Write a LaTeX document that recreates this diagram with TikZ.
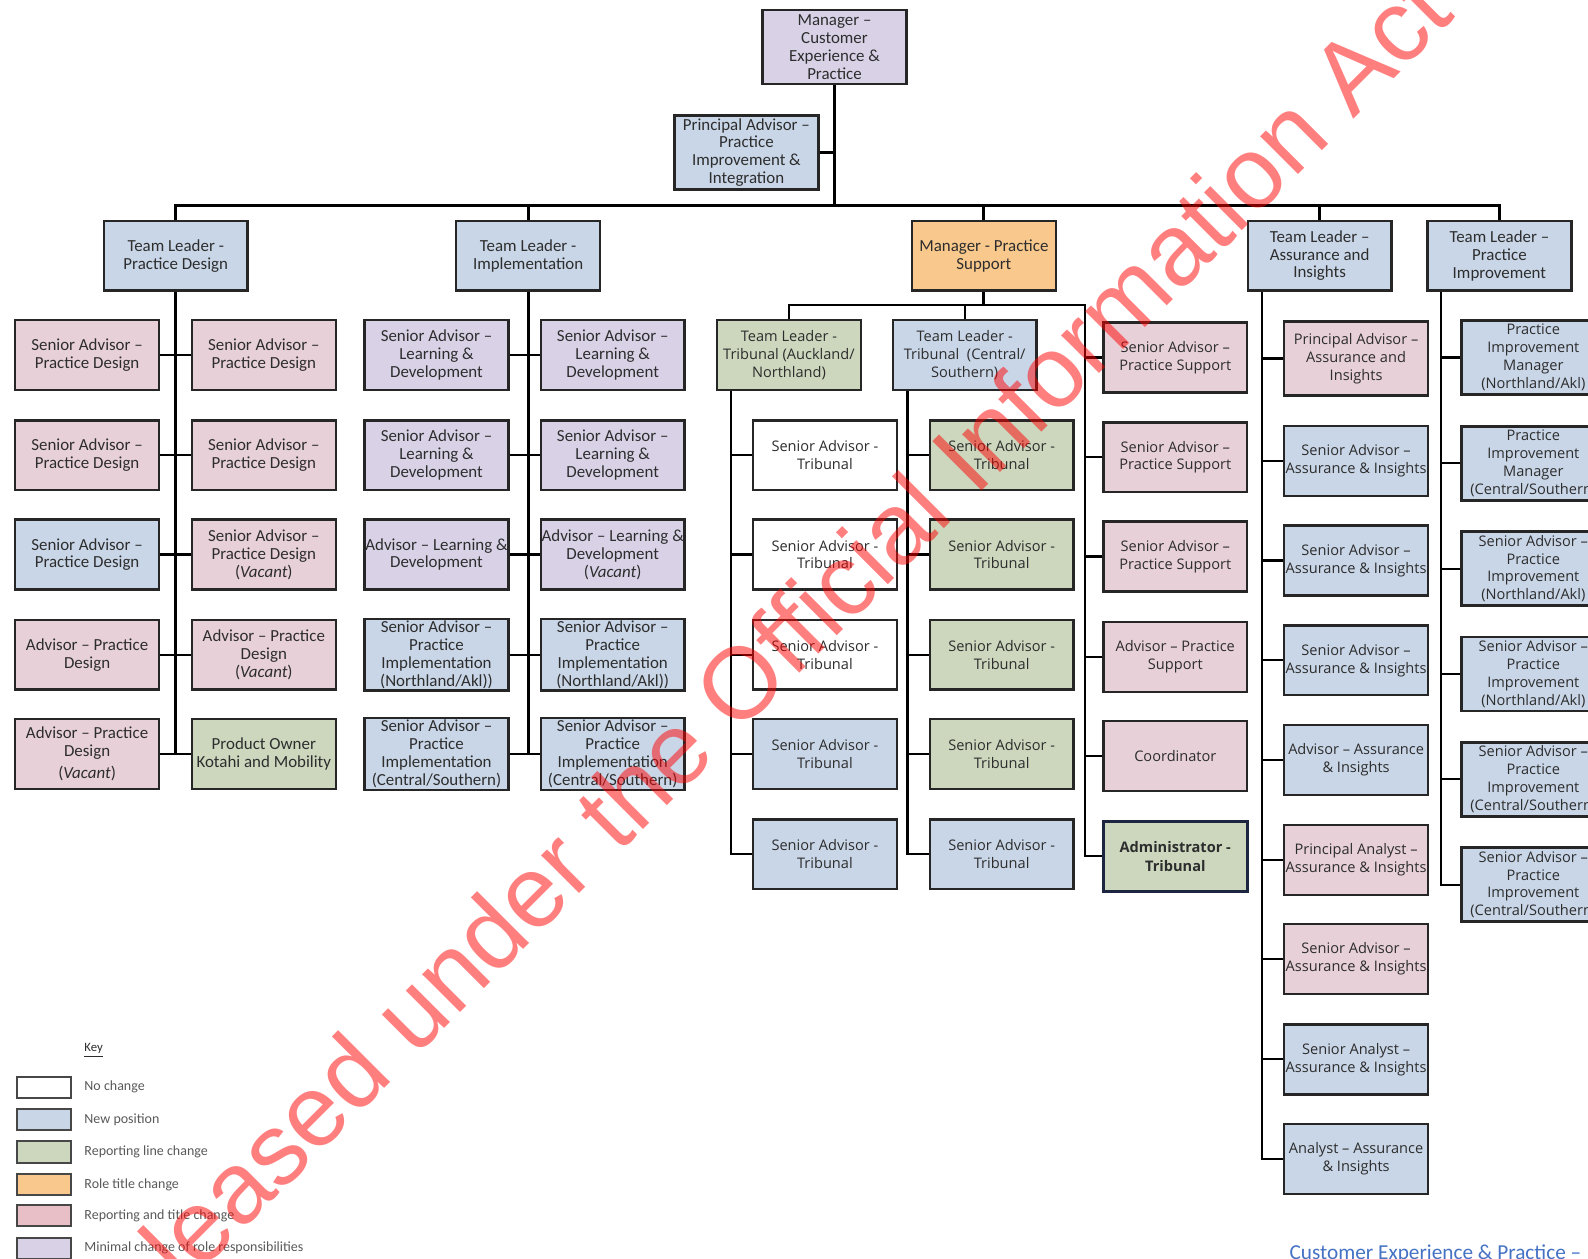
\documentclass[tikz,border=0pt]{standalone}
\usepackage{fontspec}
\setmainfont{Carlito}
\newfontfamily\osans{Open Sans}
\newfontfamily\wmfont{Liberation Sans}

\definecolor{cBlue}{RGB}{201,214,231}
\definecolor{cPink}{RGB}{231,208,216}
\definecolor{cLav}{RGB}{217,210,231}
\definecolor{cGreen}{RGB}{204,215,190}
\definecolor{cOrange}{RGB}{248,200,140}
\definecolor{boxline}{RGB}{38,38,38}
\definecolor{boxtext}{RGB}{45,45,45}
\definecolor{navyline}{RGB}{28,38,64}
\definecolor{keytext}{RGB}{89,89,89}
\definecolor{footblue}{RGB}{68,114,196}

\begin{document}
\begin{tikzpicture}[x=0.5pt,y=-0.5pt,
  box/.style={draw=boxline, line width=1.2pt, minimum width=71pt, minimum height=34.5pt,
    inner xsep=0pt, inner ysep=1pt, align=center, text=boxtext,
    font=\fontsize{8.35}{8.8}\selectfont},
  tallbox/.style={box, minimum height=36.5pt},
  osbox/.style={box, font=\osans\fontsize{7.2}{8.8}\selectfont},
  ostall/.style={osbox, minimum height=36.5pt},
  link/.style={draw=black, line width=1.1pt},
  main/.style={draw=black, line width=1.5pt},
  swatch/.style={draw=boxline!85, line width=1pt, minimum width=26.5pt, minimum height=10.5pt, inner sep=0pt},
  keylabel/.style={anchor=west, inner sep=0pt, text=keytext, font=\fontsize{6.9}{8}\selectfont}]

\useasboundingbox (0,0) rectangle (1568,1243);
\clip (0,0) rectangle (1568,1243);

% bus levels and trunk positions
\coordinate (bus) at (0,203);
\coordinate (bus2) at (0,301);
\coordinate (trA) at (722,0);
\coordinate (trC) at (896,0);
\coordinate (trS) at (1071,0);
\coordinate (trAI) at (1246,0);
\coordinate (trPI) at (1423,0);

% ---------- top of the structure ----------
\node[tallbox, fill=cLav] (mgr) at (824,46.5) {Manager –\\Customer\\Experience \&\\Practice};
\node[tallbox, fill=cBlue] (pai) at (737,150.5) {Principal Advisor –\\Practice\\Improvement \&\\Integration};

\node[box, fill=cBlue] (tlpd) at (173.5,252.5) {Team Leader -\\Practice Design};
\node[box, fill=cBlue] (tlim) at (521.5,252.5) {Team Leader -\\Implementation};
\node[box, fill=cOrange] (mps) at (971.5,252.5) {Manager - Practice\\Support};
\node[box, fill=cBlue] (tlai) at (1303,252.5) {Team Leader –\\Assurance and\\Insights};
\node[box, fill=cBlue] (tlpi) at (1480.5,252.5) {Team Leader –\\Practice\\Improvement};

% ---------- Practice Design team ----------
\node[box, fill=cPink] (pdL1) at (86,350.5) {Senior Advisor –\\Practice Design};
\node[box, fill=cPink] (pdL2) at (86,449.5) {Senior Advisor –\\Practice Design};
\node[box, fill=cBlue] (pdL3) at (86,547.5) {Senior Advisor –\\Practice Design};
\node[box, fill=cPink] (pdL4) at (86,646.5) {Advisor – Practice\\Design};
\node[box, fill=cPink] (pdL5) at (86,744.5) {Advisor – Practice\\Design\\[2pt](\textit{Vacant})};
\node[box, fill=cPink] (pdR1) at (260.5,350.5) {Senior Advisor –\\Practice Design};
\node[box, fill=cPink] (pdR2) at (260.5,449.5) {Senior Advisor –\\Practice Design};
\node[box, fill=cPink] (pdR3) at (260.5,547.5) {Senior Advisor –\\Practice Design\\(\textit{Vacant})};
\node[box, fill=cPink] (pdR4) at (260.5,646.5) {Advisor – Practice\\Design\\(\textit{Vacant})};
\node[box, fill=cGreen] (pdR5) at (260.5,744.5) {Product Owner\\Kotahi and Mobility};

% ---------- Implementation team ----------
\node[box, fill=cLav] (imL1) at (431,350.5) {Senior Advisor –\\Learning \&\\Development};
\node[box, fill=cLav] (imL2) at (431,449.5) {Senior Advisor –\\Learning \&\\Development};
\node[box, fill=cLav] (imL3) at (431,547.5) {Advisor – Learning \&\\Development};
\node[box, fill=cBlue] (imL4) at (431,646.5) {Senior Advisor –\\Practice\\Implementation\\(Northland/Akl))};
\node[box, fill=cBlue] (imL5) at (431,744.5) {Senior Advisor –\\Practice\\Implementation\\(Central/Southern)};
\node[box, fill=cLav] (imR1) at (605,350.5) {Senior Advisor –\\Learning \&\\Development};
\node[box, fill=cLav] (imR2) at (605,449.5) {Senior Advisor –\\Learning \&\\Development};
\node[box, fill=cLav] (imR3) at (605,547.5) {Advisor – Learning \&\\Development\\(\textit{Vacant})};
\node[box, fill=cBlue] (imR4) at (605,646.5) {Senior Advisor –\\Practice\\Implementation\\(Northland/Akl))};
\node[box, fill=cBlue] (imR5) at (605,744.5) {Senior Advisor –\\Practice\\Implementation\\(Central/Southern)};

% ---------- Practice Support group ----------
\node[osbox, fill=cGreen] (tlta) at (779,350.5) {Team Leader -\\Tribunal (Auckland/\\Northland)};
\node[osbox, fill=cBlue] (tltc) at (952.5,350.5) {Team Leader -\\Tribunal\ \ (Central/\\Southern)};

\node[osbox, fill=white] (ta1) at (814.5,449.5) {Senior Advisor -\\Tribunal};
\node[osbox, fill=white] (ta2) at (814.5,547.5) {Senior Advisor -\\Tribunal};
\node[osbox, fill=white] (ta3) at (814.5,646.5) {Senior Advisor -\\Tribunal};
\node[osbox, fill=cBlue] (ta4) at (814.5,744.5) {Senior Advisor -\\Tribunal};
\node[osbox, fill=cBlue] (ta5) at (814.5,843.5) {Senior Advisor -\\Tribunal};

\node[osbox, fill=cGreen] (tc1) at (989,449.5) {Senior Advisor -\\Tribunal};
\node[osbox, fill=cGreen] (tc2) at (989,547.5) {Senior Advisor -\\Tribunal};
\node[osbox, fill=cGreen] (tc3) at (989,646.5) {Senior Advisor -\\Tribunal};
\node[osbox, fill=cGreen] (tc4) at (989,744.5) {Senior Advisor -\\Tribunal};
\node[osbox, fill=cBlue] (tc5) at (989,843.5) {Senior Advisor -\\Tribunal};

\node[osbox, fill=cPink] (ps1) at (1160.5,353) {Senior Advisor –\\Practice Support};
\node[osbox, fill=cPink] (ps2) at (1160.5,451.5) {Senior Advisor –\\Practice Support};
\node[osbox, fill=cPink] (ps3) at (1160.5,549.5) {Senior Advisor –\\Practice Support};
\node[osbox, fill=cPink] (ps4) at (1160.5,648.5) {Advisor – Practice\\Support};
\node[osbox, fill=cPink] (ps5) at (1160.5,746.5) {Coordinator};
\node[osbox, fill=cGreen, draw=navyline, line width=1.7pt, font=\osans\bfseries\fontsize{7.2}{9.6}\selectfont] (ps6) at (1160.5,845.5) {Administrator -\\Tribunal};

% ---------- Assurance and Insights team ----------
\node[ostall, fill=cPink] (ai1) at (1339,354) {Principal Advisor –\\Assurance and\\Insights};
\node[osbox, fill=cBlue] (ai2) at (1339,455) {Senior Advisor –\\Assurance \& Insights};
\node[osbox, fill=cBlue] (ai3) at (1339,553.5) {Senior Advisor –\\Assurance \& Insights};
\node[osbox, fill=cBlue] (ai4) at (1339,652) {Senior Advisor –\\Assurance \& Insights};
\node[osbox, fill=cBlue] (ai5) at (1339,750.5) {Advisor – Assurance\\\& Insights};
\node[osbox, fill=cPink] (ai6) at (1339,849) {Principal Analyst –\\Assurance \& Insights};
\node[osbox, fill=cPink] (ai7) at (1339,947) {Senior Advisor –\\Assurance \& Insights};
\node[osbox, fill=cBlue] (ai8) at (1339,1046) {Senior Analyst –\\Assurance \& Insights};
\node[osbox, fill=cBlue] (ai9) at (1339,1144.5) {Analyst – Assurance\\\& Insights};

% ---------- Practice Improvement team ----------
\node[ostall, fill=cBlue] (pi1) at (1514,353) {Practice\\Improvement\\Manager\\(Northland/Akl)};
\node[ostall, fill=cBlue] (pi2) at (1514,457.5) {Practice\\Improvement\\Manager\\(Central/Southern)};
\node[ostall, fill=cBlue] (pi3) at (1514,561.5) {Senior Advisor –\\Practice\\Improvement\\(Northland/Akl)};
\node[ostall, fill=cBlue] (pi4) at (1514,665.5) {Senior Advisor –\\Practice\\Improvement\\(Northland/Akl)};
\node[ostall, fill=cBlue] (pi5) at (1514,769.5) {Senior Advisor –\\Practice\\Improvement\\(Central/Southern)};
\node[ostall, fill=cBlue] (pi6) at (1514,873.5) {Senior Advisor –\\Practice\\Improvement\\(Central/Southern)};

% ---------- reporting lines ----------
\draw[main] (mgr.south) -- (mgr.south |- bus);
\draw[link] (pai.east) -- (pai.east -| mgr.south);
\draw[main] (tlpd.north) -- (tlpd.north |- bus) -- (tlpi.north |- bus) -- (tlpi.north);
\draw[main] (tlim.north) -- (tlim.north |- bus);
\draw[main] (mps.north) -- (mps.north |- bus);
\draw[main] (tlai.north) -- (tlai.north |- bus);

\draw[main] (tlpd.south) -- (tlpd.south |- pdL5.east);
\foreach \i in {1,...,5} \draw[link] (pdL\i.east) -- (pdR\i.west);
\draw[main] (tlim.south) -- (tlim.south |- imL5.east);
\foreach \i in {1,...,5} \draw[link] (imL\i.east) -- (imR\i.west);

\draw[main] (mps.south) -- (mps.south |- bus2);
\draw[link] (tlta.north) -- (tlta.north |- bus2) -- (bus2 -| trS) -- (ps6.west -| trS) -- (ps6.west);
\draw[link] (tltc.north) -- (tltc.north |- bus2);
\foreach \i in {1,...,5} \draw[link] (ps\i.west) -- (ps\i.west -| trS);

\draw[link] (tlta.south -| trA) -- (ta5.west -| trA) -- (ta5.west);
\foreach \i in {1,...,4} \draw[link] (ta\i.west) -- (ta\i.west -| trA);
\draw[link] (tltc.south -| trC) -- (tc5.west -| trC) -- (tc5.west);
\foreach \i in {1,...,4} \draw[link] (tc\i.west) -- (tc\i.west -| trC);

\draw[link] (tlai.south -| trAI) -- (ai9.west -| trAI) -- (ai9.west);
\foreach \i in {1,...,8} \draw[link] (ai\i.west) -- (ai\i.west -| trAI);
\draw[link] (tlpi.south -| trPI) -- (pi6.west -| trPI) -- (pi6.west);
\foreach \i in {1,...,5} \draw[link] (pi\i.west) -- (pi\i.west -| trPI);

% ---------- key ----------
\node[anchor=base west, inner sep=0pt, text=boxtext, font=\fontsize{6.3}{8}\selectfont] (key) at (83,1038) {\underline{Key}};
\node[swatch, fill=white] (k1) at (43.5,1073.5) {};
\node[swatch, fill=cBlue] (k2) at (43.5,1105.5) {};
\node[swatch, fill=cGreen] (k3) at (43.5,1137.5) {};
\node[swatch, fill=cOrange] (k4) at (43.5,1169.5) {};
\node[swatch, fill=cPink!90!red!80!cPink] (k5) at (43.5,1200.5) {};
\node[swatch, fill=cLav] (k6) at (43.5,1232.5) {};
\node[keylabel] (l1) at (83,1073.5) {No change};
\node[keylabel] (l2) at (83,1105.5) {New position};
\node[keylabel] (l3) at (83,1137.5) {Reporting line change};
\node[keylabel] (l4) at (83,1169.5) {Role title change};
\node[keylabel] (l5) at (83,1200.5) {Reporting and title change};
\node[keylabel] (l6) at (83,1232.5) {Minimal change of role responsibilities};

% ---------- footer ----------
\node[anchor=base west, inner sep=0pt, text=footblue, font=\fontsize{10.5}{12}\selectfont] (foot) at (1273,1244) {Customer Experience \& Practice –};

% ---------- release stamp ----------
\node[rotate=45, inner sep=0pt, text=red, text opacity=0.5, font=\wmfont\fontsize{50}{60}\selectfont] (stamp) at (740,664) {Released under the Official Information Act};
\end{tikzpicture}
\end{document}
